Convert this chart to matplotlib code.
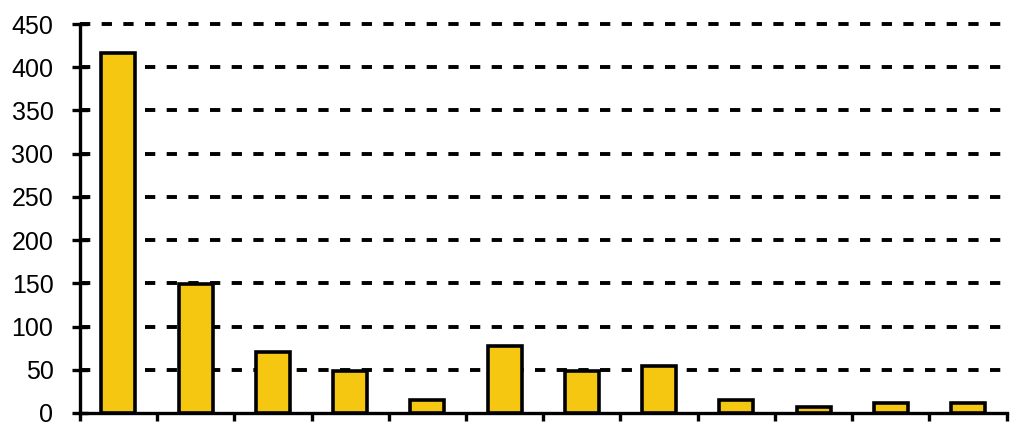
import numpy as np
import matplotlib.pyplot as plt

plt.rcParams['font.family'] = ['Liberation Sans', 'DejaVu Sans']
plt.rcParams['lines.scale_dashes'] = False

# values (no category labels shown)
categories = list(range(1, 13))
values = [417, 149, 70, 49, 15, 78, 49, 54, 15, 7, 11, 11]
yticks = list(range(0, 451, 50))

fig = plt.figure(figsize=(10.24, 4.36), dpi=100)
ax = fig.add_axes([0.078, 0.0528, 0.905, 0.892])

x = np.arange(len(categories))
ax.bar(x, values, width=0.44, color='#F5C710', edgecolor='black',
       linewidth=2.6, zorder=3)

ax.set_xlim(-0.5, len(categories) - 0.5)
ax.set_ylim(0, 450)
ax.set_yticks(yticks)
ax.set_xticks(np.arange(-0.5, len(categories)))
ax.set_xticklabels([])

for v in yticks[1:]:
    ax.axhline(v, color='black', linewidth=2.8, linestyle=(0, (7.4, 8.2)),
               zorder=1, clip_on=False)

for s in ['top', 'right']:
    ax.spines[s].set_visible(False)
ax.spines['left'].set_linewidth(2.4)
ax.spines['bottom'].set_linewidth(2.4)

ax.tick_params(axis='y', direction='inout', length=12, width=2.4,
               labelsize=18, pad=13)
ax.tick_params(axis='x', direction='out', length=6, width=2.4)

fig.savefig('out.png', dpi=100)
